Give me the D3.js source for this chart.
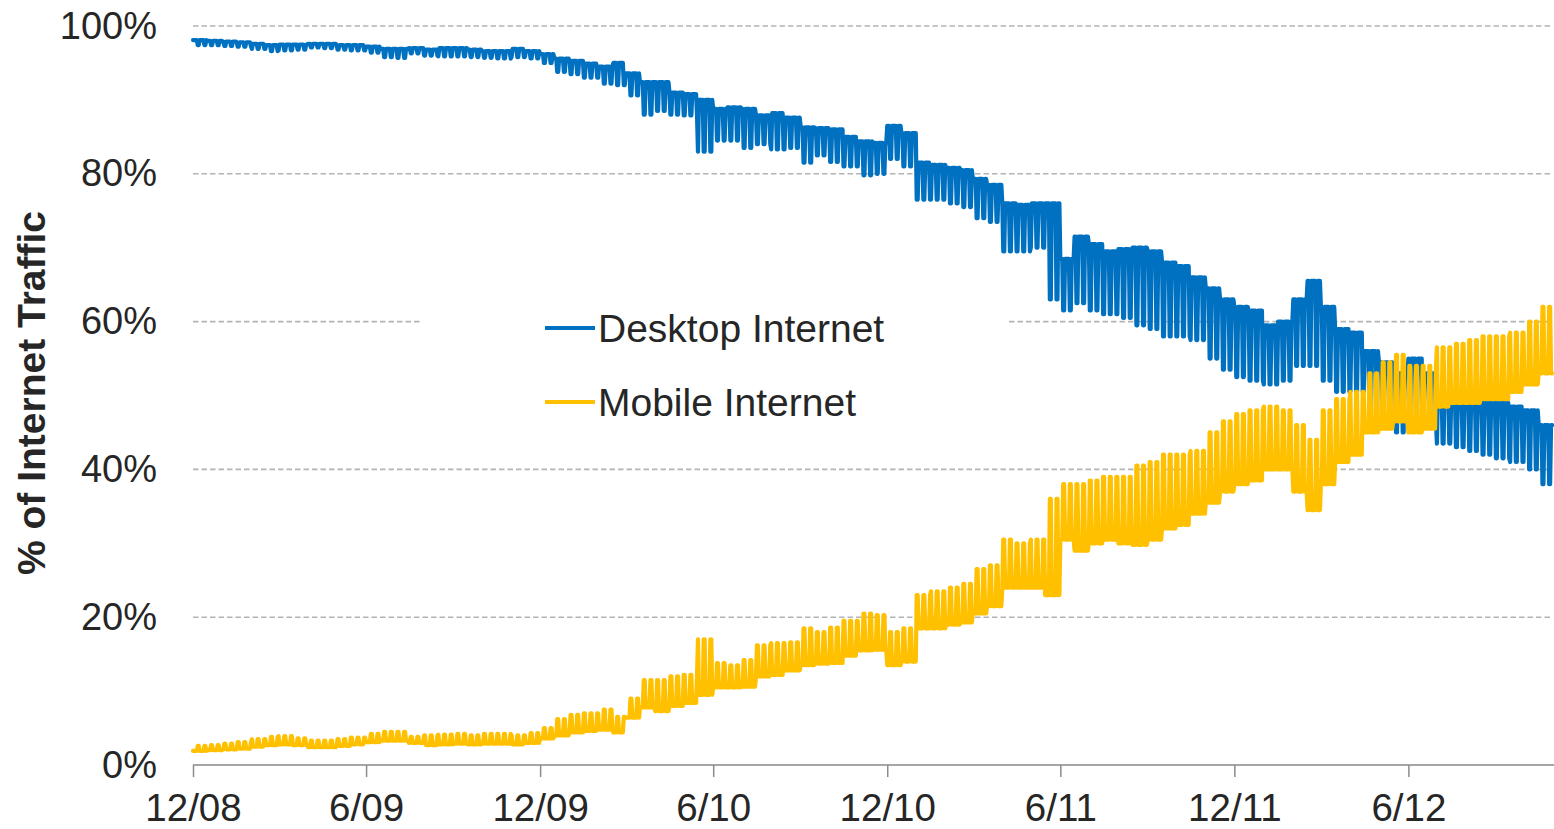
<!DOCTYPE html>
<html>
<head>
<meta charset="utf-8">
<script src="https://cdn.jsdelivr.net/npm/d3@7"></script>
<style>
  html, body { margin: 0; padding: 0; background: #fff; }
  svg { display: block; }
  text { font-family: "Liberation Sans", Arial, sans-serif; fill: #262626; }
</style>
</head>
<body>
<svg id="chart" width="1554" height="829"></svg>
<script>
// readings taken twice a month (1st and 16th), Dec 2008 .. Oct 2012
const firstMonth = new Date(2008, 11, 1);
const lastDay = new Date(2012, 9, 30);
const readingDates = d3.timeMonth.range(firstMonth, new Date(2012, 10, 1))
    .flatMap(m => [m, new Date(m.getFullYear(), m.getMonth(), 16)]);

// desktop share, weekdays (top of the band)
const desktopWeekday = [
    98.1, 98.0,
    97.9, 97.8, 97.6, 97.4, 97.5, 97.5, 97.6, 97.6, 97.4, 97.4, 97.2, 96.9,
    96.9, 97.0, 96.8, 97.0, 97.0, 96.8, 96.6, 96.6, 96.9, 96.6, 96.2, 95.6,
    95.3, 94.9, 94.5, 95.0, 93.6, 92.4, 92.4, 91.0, 90.8, 90.0, 88.8, 89.0,
    88.8, 87.9, 88.2, 87.6, 86.3, 86.2, 86.0, 85.0, 84.4, 84.2, 86.5, 85.5,
    81.5, 81.2, 80.8, 80.5, 79.3, 78.5, 76.0, 75.8, 76.0, 76.0, 68.5, 71.5,
    70.5, 69.5, 69.8, 70.0, 69.5, 68.0, 67.5, 66.0, 64.5, 63.0, 62.0, 61.5,
    59.5, 60.0, 63.0, 65.5, 62.0, 59.0, 58.5, 56.0, 54.5, 53.0, 55.0, 53.0,
    50.0, 49.5, 49.5, 49.0, 49.0, 48.5, 48.0, 46.0
];
// desktop share, weekends (bottom of the dips)
const desktopWeekend = [
    97.4, 97.4,
    97.3, 97.2, 96.9, 96.6, 96.7, 96.8, 97.1, 97.0, 96.8, 96.7, 96.4, 95.8,
    95.7, 96.3, 96.0, 95.9, 95.9, 95.8, 95.7, 95.6, 95.8, 95.6, 95.0, 93.8,
    93.5, 93.0, 92.2, 92.0, 90.6, 88.0, 88.5, 88.0, 87.9, 83.0, 84.5, 84.5,
    83.5, 84.0, 83.3, 83.5, 81.5, 82.5, 81.6, 81.0, 79.8, 80.0, 82.0, 81.0,
    76.5, 76.5, 76.0, 75.5, 74.0, 73.5, 69.5, 69.5, 70.0, 63.0, 61.5, 62.5,
    61.5, 61.0, 60.5, 59.5, 59.0, 58.0, 58.0, 57.5, 55.0, 53.5, 52.5, 52.0,
    51.5, 52.0, 54.0, 54.0, 52.0, 50.5, 50.5, 47.5, 46.5, 45.0, 47.0, 46.5,
    43.5, 43.0, 42.5, 42.0, 41.5, 41.0, 40.0, 38.0
];
// mobile share, weekdays (bottom of the band)
const mobileWeekday = [
    1.9, 2.0,
    2.1, 2.2, 2.5, 2.7, 2.8, 2.7, 2.4, 2.4, 2.6, 2.8, 3.1, 3.3,
    3.3, 3.0, 2.7, 2.8, 2.9, 2.8, 2.9, 2.9, 2.8, 3.0, 3.6, 4.0,
    4.4, 4.6, 4.8, 4.4, 6.4, 7.8, 7.3, 8.0, 8.4, 9.5, 10.5, 10.5,
    10.6, 12.0, 12.2, 12.8, 13.5, 13.7, 13.8, 14.8, 15.5, 15.6, 13.5, 14.0,
    18.5, 18.5, 19.0, 19.3, 20.5, 21.5, 24.0, 24.0, 24.0, 23.0, 30.5, 29.0,
    30.0, 30.5, 30.0, 29.8, 30.5, 32.0, 32.5, 34.0, 35.5, 37.0, 38.0, 38.5,
    40.0, 40.0, 37.0, 34.5, 38.0, 41.0, 42.0, 45.0, 45.5, 46.5, 45.0, 45.5,
    48.5, 49.0, 49.0, 49.5, 49.5, 50.5, 51.5, 53.0
];
// mobile share, weekends (top of the spikes)
const mobileWeekend = [
    2.6, 2.7,
    2.9, 3.1, 3.5, 3.8, 3.9, 3.6, 3.3, 3.3, 3.5, 3.7, 4.2, 4.5,
    4.5, 3.8, 4.0, 4.1, 4.2, 4.0, 4.2, 4.2, 4.0, 4.3, 5.0, 6.2,
    6.8, 7.0, 7.5, 6.5, 9.0, 11.5, 11.5, 12.0, 12.2, 17.0, 13.8, 13.5,
    14.2, 16.2, 16.5, 16.6, 18.5, 18.0, 18.6, 19.5, 20.5, 20.3, 18.0, 18.5,
    23.0, 23.5, 24.0, 24.5, 26.5, 27.0, 30.5, 30.0, 30.5, 36.0, 38.0, 38.0,
    38.5, 39.0, 39.0, 40.5, 41.0, 42.0, 42.0, 42.5, 45.0, 46.5, 47.5, 48.0,
    48.5, 48.0, 46.0, 44.0, 48.0, 49.5, 50.5, 53.0, 54.5, 55.5, 54.0, 54.0,
    56.5, 57.0, 57.5, 58.0, 58.0, 58.5, 60.0, 62.0
];

const tickDates = ["2008-12-01", "2009-06-01", "2009-12-01", "2010-06-01",
    "2010-12-01", "2011-06-01", "2011-12-01", "2012-06-01"].map(d3.timeParse("%Y-%m-%d"));
const yTicks = [0, 20, 40, 60, 80, 100];
const seriesNames = ["Desktop Internet", "Mobile Internet"];
const seriesColors = ["#0070c0", "#ffc000"];

const svg = d3.select("#chart");

const x = d3.scaleTime().domain([firstMonth, lastDay]).range([193, 1552]);
const y = d3.scaleLinear().domain([0, 100]).range([765, 26]);

// expand the twice-monthly readings to one point per day (weekday / weekend level)
const days = d3.timeDay.range(firstMonth, d3.timeDay.offset(lastDay, 1));
const bisect = d3.bisector(d => d).right;
function daily(weekday, weekend) {
    return days.map(day => {
        const i = Math.max(0, bisect(readingDates, day) - 1);
        const w = day.getDay();
        return { date: day, value: (w === 0 || w === 6) ? weekend[i] : weekday[i] };
    });
}
const series = [daily(desktopWeekday, desktopWeekend), daily(mobileWeekday, mobileWeekend)];

// gridlines
svg.append("g")
    .selectAll("line")
    .data(yTicks.filter(d => d > 0))
    .join("line")
    .attr("x1", 193).attr("x2", 1552)
    .attr("y1", d => y(d)).attr("y2", d => y(d))
    .attr("stroke", "#b4b4b4")
    .attr("stroke-width", 1.6)
    .attr("stroke-dasharray", "5.5,3");

// legend background hides the 60% gridline behind it
svg.append("rect")
    .attr("x", 421).attr("y", 290)
    .attr("width", 588).attr("height", 140)
    .attr("fill", "#fff");

// y axis labels
const yAxis = svg.append("g")
    .attr("transform", "translate(193,0)")
    .call(d3.axisLeft(y).tickValues(yTicks).tickFormat(d => d + "%").tickSize(0).tickPadding(36));
yAxis.select(".domain").remove();
yAxis.selectAll("text")
    .style("font-size", "38px")
    .attr("fill", "#262626");

// x axis
const xAxis = svg.append("g")
    .attr("transform", "translate(0,765)")
    .call(d3.axisBottom(x).tickValues(tickDates).tickFormat(d3.timeFormat("%-m/%y")).tickSizeOuter(0).tickSize(12).tickPadding(17));
xAxis.select(".domain")
    .attr("d", "M193,0H1554")
    .attr("stroke", "#a6a6a6")
    .attr("stroke-width", 2);
xAxis.selectAll(".tick line")
    .attr("stroke", "#8c8c8c")
    .attr("stroke-width", 1.5);
xAxis.selectAll("text")
    .style("font-size", "38.5px")
    .attr("fill", "#262626");

// y title
svg.append("text")
    .attr("transform", "translate(45,393) rotate(-90)")
    .attr("text-anchor", "middle")
    .style("font-size", "39px")
    .style("font-weight", "bold")
    .text("% of Internet Traffic");

// lines
const line = d3.line()
    .x(d => x(d.date))
    .y(d => y(d.value));

svg.append("g")
    .selectAll("path")
    .data(series)
    .join("path")
    .attr("fill", "none")
    .attr("stroke", (d, i) => seriesColors[i])
    .attr("stroke-width", 4.2)
    .attr("stroke-linejoin", "round")
    .attr("stroke-linecap", "round")
    .attr("d", line);

// legend
const legend = svg.append("g")
    .selectAll("g")
    .data(seriesNames)
    .join("g")
    .attr("transform", (d, i) => `translate(545,${328 + i * 74})`);
legend.append("line")
    .attr("x1", 0).attr("x2", 50)
    .attr("stroke", (d, i) => seriesColors[i])
    .attr("stroke-width", 4);
legend.append("text")
    .attr("x", 53)
    .attr("dy", "0.35em")
    .style("font-size", "39px")
    .text(d => d);
</script>
</body>
</html>
